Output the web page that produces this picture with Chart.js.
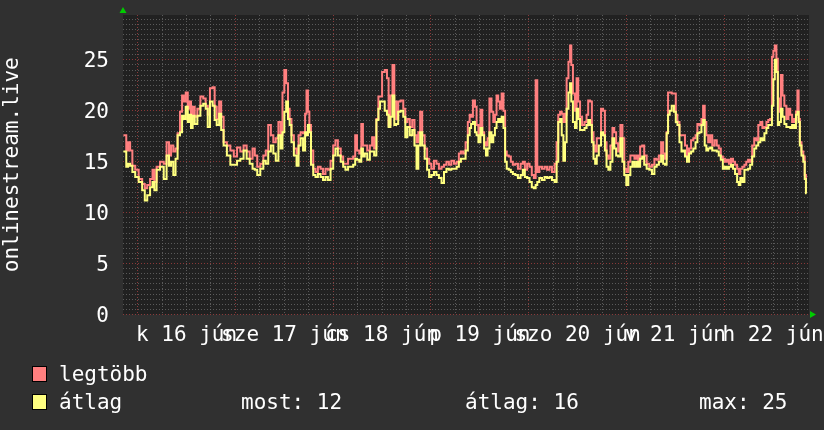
<!DOCTYPE html>
<html><head><meta charset="utf-8">
<script src="https://cdn.jsdelivr.net/npm/chart.js@4"></script>
<style>
html,body{margin:0;padding:0;background:#303030;}
#wrap{position:relative;width:824px;height:430px;overflow:hidden;}
canvas{position:absolute;left:0;top:0;}
.lg{position:absolute;font-family:"DejaVu Sans Mono",monospace;font-size:21px;color:#ffffff;line-height:24px;white-space:pre;}
.sw{position:absolute;width:13px;height:14px;border:1px solid #000;}
</style></head><body>
<div id="wrap"><canvas id="c" width="824" height="430"></canvas><div id="legend"></div></div>
<script>
// time in hours relative to 16 jún 00:00
const hours = [-3.5,-3.0,-2.6,-2.1,-1.6,-1.0,-0.2,0.7,1.5,2.0,2.7,3.4,3.9,4.3,5.0,6.0,6.8,7.4,8.0,8.4,9.1,9.5,10.1,10.7,11.1,11.5,12.1,12.5,12.9,13.3,13.7,14.3,15.0,15.8,16.4,17.0,17.4,18.1,18.7,19.1,19.7,20.3,20.7,21.5,22.3,23.2,24.0,24.8,25.6,26.4,27.1,27.9,28.5,29.0,29.7,30.5,31.2,31.7,32.4,33.0,33.6,34.2,34.9,35.3,35.8,36.2,36.7,37.1,37.5,38.0,38.7,39.3,
39.7,40.3,40.9,41.3,41.6,42.0,42.3,42.8,43.4,43.9,44.6,45.2,45.8,46.4,47.0,47.7,48.3,48.8,49.5,50.2,50.7,51.3,52.0,52.6,53.2,53.6,54.1,54.7,55.1,55.5,56.0,56.7,57.3,57.8,58.3,58.9,59.3,59.7,60.3,61.0,61.4,61.8,62.3,62.8,63.2,63.7,64.2,64.9,65.5,65.9,66.5,67.1,67.7,68.2,68.7,69.1,69.6,70.1,70.8,71.3,71.8,72.4,73.1,73.6,74.3,74.9,75.5,76.1,76.7,77.3,78.0,78.6,79.1,79.6,80.2,80.8,81.3,81.7,
82.0,82.6,83.0,83.4,83.9,84.4,84.8,85.3,85.7,86.1,86.6,87.1,87.5,87.9,88.3,88.7,89.1,89.6,90.0,90.4,90.8,91.4,91.8,92.4,93.0,93.7,94.3,94.8,95.3,95.9,96.5,97.0,97.5,97.9,98.3,98.9,99.6,100.2,100.8,101.4,102.0,102.7,103.0,103.5,103.9,104.3,104.7,105.1,105.5,106.0,106.3,106.6,107.1,107.6,107.9,108.4,108.8,109.4,110.0,110.4,110.8,111.3,111.7,112.1,112.5,112.9,113.5,114.0,114.5,114.9,115.3,115.8,116.3,116.8,117.2,117.7,118.2,118.8,119.2,119.7,120.2,120.7,121.2,121.7,122.2,122.7,123.1,123.6,124.1,124.6,
125.3,125.9,126.6,127.1,127.7,128.2,128.8,129.2,129.7,130.0,130.4,130.8,131.4,131.9,132.3,132.7,133.3,133.7,134.1,134.6,135.1,135.6,136.1,136.7,137.2,137.6,138.2,138.6,139.0,139.4,139.8,140.3,140.8,141.3,141.9,142.4,142.9,143.4,143.9,144.4,144.9,145.4,145.9,146.4,146.9,147.4,147.7,148.2,148.7,149.2,149.6,150.1,150.6,151.1,151.6,152.1,152.6,153.1,153.6,154.1,154.6,155.0,155.5,155.9,156.2,156.6,157.0,157.3,157.7,158.1,158.5,159.0,159.5,160.0,160.4,160.9,161.4,161.8,162.1,162.4,162.7,163.2,163.6,163.9,164.2];
const maxValues = [17.6,17.6,16.1,16.9,16.1,14.6,14.2,13.3,12.8,12.4,12.7,13.3,14.2,13.0,14.5,15.0,14.8,16.9,15.6,16.6,16.0,16.3,17.8,19.9,21.5,20.9,21.8,20.2,20.9,19.6,20.4,19.4,20.2,21.4,21.2,20.5,19.6,22.2,22.3,20.4,19.2,20.9,19.4,16.9,16.6,16.1,15.5,16.4,16.0,16.6,16.0,15.3,16.3,15.6,14.5,14.8,15.6,16.1,18.6,17.6,16.9,17.3,18.9,17.6,21.8,24.0,22.7,20.2,19.2,17.6,16.3,15.8,
17.6,17.9,17.8,19.7,22.0,19.9,18.6,16.1,14.3,14.0,14.5,14.3,13.8,14.3,14.2,15.1,16.6,17.1,16.3,15.5,14.8,14.8,15.3,15.3,15.5,17.6,16.1,15.8,18.7,16.6,16.6,16.1,16.6,17.4,16.3,19.2,21.4,21.4,23.8,24.0,23.2,18.6,21.5,24.5,20.9,19.2,20.9,21.0,20.2,18.9,19.2,18.4,19.1,17.6,16.9,17.9,19.9,17.6,16.3,15.3,14.8,14.3,15.1,14.8,14.3,14.5,14.7,15.0,14.7,15.1,14.8,15.0,15.8,16.0,15.8,16.9,18.9,19.6,
19.4,21.0,20.4,18.6,17.6,20.1,17.9,16.9,16.6,17.3,21.2,19.9,18.9,19.6,21.5,20.9,20.2,21.7,20.0,16.0,15.6,15.5,15.0,14.7,14.8,14.3,14.8,15.0,14.2,14.8,14.5,13.7,13.4,23.0,14.0,14.5,14.3,14.5,14.2,14.5,14.0,14.8,16.9,19.6,19.9,19.7,18.9,19.7,23.2,24.8,26.4,24.5,21.7,20.0,23.2,20.9,19.4,18.6,18.9,19.6,21.0,20.9,17.9,16.6,16.0,17.3,17.3,20.2,20.0,16.9,15.6,15.3,16.6,18.3,17.9,16.8,16.0,18.6,17.3,14.3,14.0,15.0,15.6,15.6,15.3,15.6,15.0,16.5,16.6,15.6,
14.8,14.5,14.7,15.3,15.2,15.6,16.9,15.8,15.3,17.9,21.8,21.8,21.7,21.7,19.6,18.9,17.6,17.6,17.6,16.6,15.5,16.3,17.1,17.3,17.6,18.7,18.6,19.2,20.5,18.9,17.6,16.9,17.6,16.6,17.1,16.6,16.3,15.5,15.3,15.0,15.2,14.8,15.3,15.0,14.7,14.3,13.8,14.3,14.5,14.7,15.0,15.2,15.0,16.6,17.3,17.1,18.6,18.9,18.3,18.4,18.9,19.1,19.2,25.3,25.9,26.4,25.1,21.2,19.9,23.5,21.5,20.5,19.2,20.2,19.6,18.9,19.2,19.9,22.0,19.2,16.9,16.0,15.5,13.7,12.0];
const avgValues = [16.0,16.0,14.5,14.8,14.6,14.0,13.5,13.0,12.2,11.2,11.7,12.5,13.0,12.2,14.2,14.5,13.3,15.6,14.6,15.0,13.7,15.3,17.6,17.9,19.5,19.2,20.4,18.9,19.6,18.3,19.5,18.7,19.5,20.5,20.7,20.2,18.4,20.9,20.5,19.1,18.6,19.7,18.1,16.6,15.6,14.7,14.7,15.1,15.3,16.1,15.3,14.8,14.3,14.2,13.7,14.3,15.1,14.8,16.0,16.6,15.8,15.1,17.6,16.3,17.9,19.9,20.9,19.2,18.6,16.9,15.6,14.6,
16.6,17.3,16.1,17.9,17.6,18.6,17.9,14.7,13.7,13.5,13.8,13.5,13.2,13.5,13.2,14.3,15.6,16.3,15.6,15.0,14.5,14.2,14.5,14.5,14.7,15.3,15.2,15.0,16.3,15.5,15.8,15.2,16.0,16.0,15.6,19.1,20.2,20.9,20.9,20.0,19.6,18.4,19.4,21.5,18.6,18.7,19.9,20.0,19.4,17.4,18.4,17.6,18.1,16.6,14.3,16.6,17.9,16.6,15.3,14.2,13.5,13.7,14.0,13.7,13.4,12.9,14.0,14.3,14.2,14.3,14.3,14.5,15.0,15.3,15.3,16.1,17.6,18.3,
18.7,18.9,17.9,17.6,16.9,18.3,17.6,16.3,15.6,16.3,17.9,16.9,17.6,18.3,18.9,19.2,18.9,19.4,18.3,15.0,14.3,14.2,14.0,13.8,13.7,13.4,13.7,14.2,13.5,13.4,13.0,12.5,12.4,12.7,13.0,13.4,13.2,13.5,13.4,13.5,13.2,13.0,15.0,18.9,19.2,17.6,15.1,16.9,20.2,21.8,22.7,20.9,18.9,18.3,20.2,19.2,18.1,18.1,18.3,18.6,19.1,18.6,16.9,15.3,14.8,15.6,16.6,17.9,17.6,16.1,14.5,14.2,15.0,17.3,16.3,15.6,15.5,17.3,15.0,13.7,12.7,13.7,14.5,15.0,14.5,15.0,14.5,15.3,15.5,14.7,
14.3,14.2,13.8,14.5,14.7,15.0,15.6,14.8,14.7,17.8,19.6,20.0,20.5,19.9,18.9,18.6,16.9,16.0,16.1,15.5,15.0,15.8,16.0,16.3,16.9,17.8,17.9,18.6,19.1,16.6,16.1,16.3,16.4,16.1,16.1,16.0,15.6,15.2,14.3,14.5,14.3,14.5,14.7,14.3,13.8,13.0,12.7,13.4,13.0,14.2,14.2,14.3,14.7,15.5,16.3,16.6,16.9,17.3,17.1,17.8,18.3,18.6,18.6,20.5,23.1,25.0,23.8,18.6,18.9,20.2,19.4,18.7,18.4,18.4,18.3,18.6,18.3,19.6,19.9,18.9,16.6,15.6,15.0,13.3,11.9];

const dayStartHours = [0,24,48,72,96,120,144];
const dayLabels = ["k 16 jún","sze 17 jún","cs 18 jún","p 19 jún","szo 20 jún","v 21 jún","h 22 jún"];
const yTickLabels = [0,5,10,15,20,25];
const seriesNames = ["legtöbb","átlag"];
const statLabels = ["most:","átlag:","max:"];
const statValues = [12,16,25];
const axisTitle = "onlinestream.live";

const COL_MAX = '#ff7f7f', COL_AVG = '#ffff80';
const GRID_MINOR = 'rgba(110,110,110,0.75)', GRID_MAJOR = 'rgba(150,60,60,0.9)';
const FONT = {family:'"DejaVu Sans Mono", monospace', size:21};
const X_MIN = -3.6, X_MAX = 164.8, Y_MAX = 29.4;

const xTicks = [];
dayStartHours.forEach(d => [0,6,12,18].forEach(o => xTicks.push(d + o)));
const yTicks = [];
for (let i = 0; i <= 58; i++) yTicks.push(i / 2);

const bgPlugin = {
  id: 'bg',
  beforeDraw(chart) {
    const {ctx, chartArea: a} = chart;
    ctx.save();
    ctx.fillStyle = '#303030';
    ctx.fillRect(0, 0, chart.width, chart.height);
    ctx.fillStyle = '#212121';
    ctx.fillRect(a.left, a.top, a.right - a.left, a.bottom - a.top);
    ctx.restore();
  },
  afterDraw(chart) {
    const {ctx, chartArea: a} = chart;
    ctx.save();
    ctx.fillStyle = '#00cc00';
    ctx.beginPath();
    ctx.moveTo(a.left - 3.5, a.top - 2);
    ctx.lineTo(a.left + 3.5, a.top - 2);
    ctx.lineTo(a.left, a.top - 8);
    ctx.closePath(); ctx.fill();
    ctx.beginPath();
    ctx.moveTo(a.right + 1, a.bottom - 3.5);
    ctx.lineTo(a.right + 1, a.bottom + 3.5);
    ctx.lineTo(a.right + 7, a.bottom);
    ctx.closePath(); ctx.fill();
    ctx.restore();
  }
};

new Chart(document.getElementById('c'), {
  type: 'line',
  data: {
    datasets: [
      {label: seriesNames[0], data: hours.map((h, i) => ({x: h, y: maxValues[i]})), borderColor: COL_MAX, borderWidth: 2, pointRadius: 0, stepped: 'middle', order: 2},
      {label: seriesNames[1], data: hours.map((h, i) => ({x: h, y: avgValues[i]})), borderColor: COL_AVG, borderWidth: 2, pointRadius: 0, stepped: 'middle', order: 1}
    ]
  },
  plugins: [bgPlugin],
  options: {
    responsive: false, animation: false, devicePixelRatio: 1,
    layout: {padding: {left: 0, right: 15, top: 15, bottom: 0}},
    plugins: {legend: {display: false}, tooltip: {enabled: false}},
    scales: {
      x: {
        type: 'linear', min: X_MIN, max: X_MAX,
        afterBuildTicks: s => { s.ticks = xTicks.map(v => ({value: v})); },
        afterFit: s => { s.height = 115.5; s.paddingLeft = 0; s.paddingRight = 0; },
        ticks: {
          autoSkip: false, maxRotation: 0, minRotation: 0, padding: 8,
          color: '#ffffff', font: FONT,
          callback: v => { const i = dayStartHours.indexOf(v - 12); return i >= 0 ? dayLabels[i] : ''; }
        },
        grid: {
          drawTicks: false, lineWidth: 1,
          color: c => (c.tick && c.tick.value % 24 === 0) ? GRID_MAJOR : GRID_MINOR
        },
        border: {display: false, dash: [1, 2]}
      },
      y: {
        type: 'linear', min: 0, max: Y_MAX,
        afterBuildTicks: s => { s.ticks = yTicks.map(v => ({value: v})); },
        afterFit: s => { s.width = 123; s.paddingTop = 0; s.paddingBottom = 0; },
        ticks: {
          autoSkip: false, padding: 14, labelOffset: 2, color: '#ffffff', font: FONT,
          callback: v => yTickLabels.includes(v) ? String(v) : ''
        },
        grid: {
          drawTicks: false, lineWidth: 1,
          color: c => (c.tick && c.tick.value % 5 === 0) ? GRID_MAJOR : GRID_MINOR
        },
        border: {display: false, dash: [1, 2]},
        title: {display: true, text: axisTitle, color: '#ffffff', font: FONT, padding: {top: 0, bottom: 0}}
      }
    }
  }
});

// legend (HTML text)
const lg = document.getElementById('legend');
function add(cls, left, top, text, bg) {
  const d = document.createElement('div');
  d.className = cls; d.style.left = left + 'px'; d.style.top = top + 'px';
  if (text) d.textContent = text;
  if (bg) d.style.background = bg;
  lg.appendChild(d);
}
add('sw', 32, 366, '', COL_MAX);
add('sw', 32, 394, '', COL_AVG);
add('lg', 59, 362, seriesNames[0]);
add('lg', 59, 390, seriesNames[1]);
const statX = [241, 465, 699];
statLabels.forEach((l, i) => add('lg', statX[i], 390, l + ' ' + statValues[i]));
</script>
</body></html>
